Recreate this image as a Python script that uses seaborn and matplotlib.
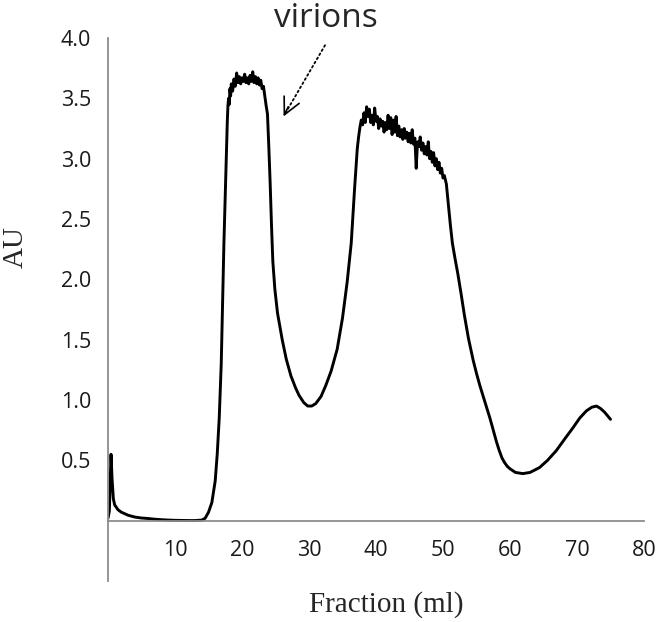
import matplotlib
matplotlib.use("Agg")
import matplotlib.pyplot as plt
import seaborn as sns
import pandas as pd

# elution profile: fraction (ml) vs absorbance (AU)
fraction_ml = [
    0.0, 0.2, 0.45, 0.6, 0.8, 1.0, 1.5, 2.0, 3.0, 4.0, 5.0, 6.0, 7.0, 8.0, 9.0,
    10.0, 11.0, 12.0, 13.0, 14.0, 14.5, 15.0, 15.5, 16.0, 16.3, 16.6, 16.9,
    17.1, 17.3, 17.5, 17.7, 17.8,
    # first plateau
    17.9, 18.0, 18.1, 18.2, 18.3, 18.4, 18.6, 18.8, 19.0, 19.2, 19.4, 19.6,
    19.8, 20.0, 20.2, 20.4, 20.6, 20.8, 21.0, 21.2, 21.4, 21.6, 21.8, 22.0,
    22.2, 22.4, 22.6, 22.8, 23.0, 23.2, 23.4, 23.6,
    # descent and valley
    23.8, 24.0, 24.2, 24.4, 24.6, 24.9, 25.3, 26.0, 26.6, 27.3, 28.0, 28.5,
    29.2, 29.8, 30.4, 31.0, 31.8, 32.5, 33.3, 34.2, 35.0, 35.7, 36.3, 36.8,
    37.2, 37.4,
    # second plateau
    37.6, 37.8, 38.0, 38.2, 38.4, 38.6, 38.8, 39.0, 39.2, 39.4, 39.6, 39.8,
    40.0, 40.2, 40.4, 40.6, 40.8, 41.0, 41.2, 41.4, 41.6, 41.8, 42.0, 42.2,
    42.4, 42.6, 42.8, 43.0, 43.2, 43.4, 43.6, 43.8, 44.0, 44.2, 44.4, 44.6,
    44.8, 45.0, 45.2, 45.4, 45.6, 45.8, 46.0, 46.2, 46.4, 46.6, 46.8, 47.0,
    47.2, 47.4, 47.6, 47.8, 48.0, 48.2, 48.4, 48.6, 48.8, 49.0, 49.2, 49.4,
    49.6, 49.8, 50.0, 50.2, 50.5,
    # tail
    50.8, 51.1, 51.4, 51.8, 52.2, 52.7, 53.2, 53.8, 54.5, 55.0, 55.5, 56.0,
    56.5, 57.0, 57.5, 58.0, 58.4, 58.8, 59.2, 59.6, 60.0, 60.8, 61.9, 63.0,
    64.4, 65.6, 66.9, 68.2, 69.4, 70.4, 71.4, 72.2, 72.9, 73.5, 74.1, 75.0,
]
absorbance_au = [
    0.02, 0.08, 0.55, 0.35, 0.18, 0.13, 0.09, 0.07, 0.045, 0.03, 0.022, 0.018,
    0.012, 0.008, 0.005, 0.003, 0.002, 0.001, 0.001, 0.005, 0.02, 0.07, 0.15,
    0.33, 0.55, 0.85, 1.3, 1.8, 2.3, 2.7, 3.1, 3.3,
    3.44, 3.50, 3.45, 3.58, 3.52, 3.62, 3.56, 3.66, 3.60, 3.71, 3.63, 3.68,
    3.62, 3.67, 3.64, 3.70, 3.63, 3.67, 3.62, 3.69, 3.64, 3.72, 3.63, 3.68,
    3.62, 3.67, 3.61, 3.65, 3.58, 3.60, 3.52, 3.44,
    3.37, 3.1, 2.8, 2.45, 2.15, 1.92, 1.72, 1.50, 1.34, 1.2, 1.1, 1.04,
    0.98, 0.95, 0.95, 0.97, 1.03, 1.12, 1.24, 1.42, 1.68, 1.98, 2.3, 2.75,
    3.08, 3.18,
    3.26, 3.32, 3.28, 3.38, 3.30, 3.43, 3.35, 3.41, 3.30, 3.36, 3.28, 3.42,
    3.31, 3.35, 3.25, 3.33, 3.27, 3.31, 3.22, 3.30, 3.24, 3.36, 3.25, 3.34,
    3.20, 3.32, 3.22, 3.35, 3.19, 3.27, 3.18, 3.24, 3.16, 3.25, 3.17, 3.22,
    3.14, 3.21, 3.13, 3.24, 3.12, 3.17, 2.92, 3.14, 3.10, 3.18, 3.07, 3.13,
    3.04, 3.10, 3.03, 3.14, 3.00, 3.06, 2.97, 3.05, 2.94, 3.00, 2.91, 2.97,
    2.88, 2.92, 2.84, 2.86, 2.79,
    2.62, 2.45, 2.30, 2.17, 2.05, 1.88, 1.70, 1.51, 1.33, 1.22, 1.12, 1.03,
    0.94, 0.85, 0.75, 0.65, 0.58, 0.52, 0.48, 0.45, 0.43, 0.40, 0.39, 0.40,
    0.44, 0.50, 0.58, 0.68, 0.77, 0.85, 0.91, 0.94, 0.95, 0.93, 0.90, 0.84,
]

x_ticks = [0, 10, 20, 30, 40, 50, 60, 70, 80]
x_tick_labels = ["", "10", "20", "30", "40", "50", "60", "70", "80"]
y_ticks = [-0.5, 0.0, 0.5, 1.0, 1.5, 2.0, 2.5, 3.0, 3.5, 4.0]
y_tick_labels = ["", "", "0.5", "1.0", "1.5", "2.0", "2.5", "3.0", "3.5", "4.0"]

df = pd.DataFrame({"fraction": fraction_ml, "au": absorbance_au})

sns.set_style("white")
plt.rcParams["font.family"] = ["Open Sans", "DejaVu Sans"]

fig = plt.figure(figsize=(6.61, 6.22), dpi=100)
ax = fig.add_axes([0.1634, 0.0659, 0.8109, 0.8730])

sns.lineplot(data=df, x="fraction", y="au", sort=False, color="black",
             linewidth=2.1, ax=ax)

ax.set_xlim(0, 80)
ax.set_ylim(-0.5, 4.0)

spine_col = "#8c8c8c"
for side in ["top", "right"]:
    ax.spines[side].set_visible(False)
ax.spines["bottom"].set_position(("data", 0))
ax.spines["bottom"].set_color(spine_col)
ax.spines["left"].set_color(spine_col)
ax.spines["bottom"].set_linewidth(1.3)
ax.spines["left"].set_linewidth(1.3)

ax.set_xticks(x_ticks)
ax.set_xticklabels(x_tick_labels)
ax.set_yticks(y_ticks)
ax.set_yticklabels(y_tick_labels)
ax.tick_params(axis="x", direction="out", length=6, width=1.3, color=spine_col,
               pad=8, labelsize=15.5, labelcolor="#1a1a1a")
ax.tick_params(axis="y", direction="out", length=7, width=1.3, color=spine_col,
               pad=5, labelsize=15.5, labelcolor="#1a1a1a")

ax.set_xlabel("Fraction (ml)", family="Liberation Serif", fontsize=21)
ax.set_ylabel("AU", family="Liberation Serif", fontsize=21)
ax.xaxis.set_label_coords(0.52, -0.018)
ax.yaxis.set_label_coords(-0.148, 0.615)

# "virions" label with dotted arrow
fig.text(0.4925, 0.956, "virions", ha="center", va="baseline", fontsize=24)
ax.annotate("", xy=(26.3, 3.36), xytext=(32.6, 3.96),
            arrowprops=dict(arrowstyle="-", linestyle=":", lw=1.3, color="black"),
            annotation_clip=False)
ax.annotate("", xy=(26.2, 3.35), xytext=(26.9, 3.43),
            arrowprops=dict(arrowstyle="->,head_length=1.0,head_width=0.5",
                            lw=1.2, color="black", mutation_scale=12,
                            shrinkA=0, shrinkB=0),
            annotation_clip=False)

fig.savefig("out.png", dpi=100)
